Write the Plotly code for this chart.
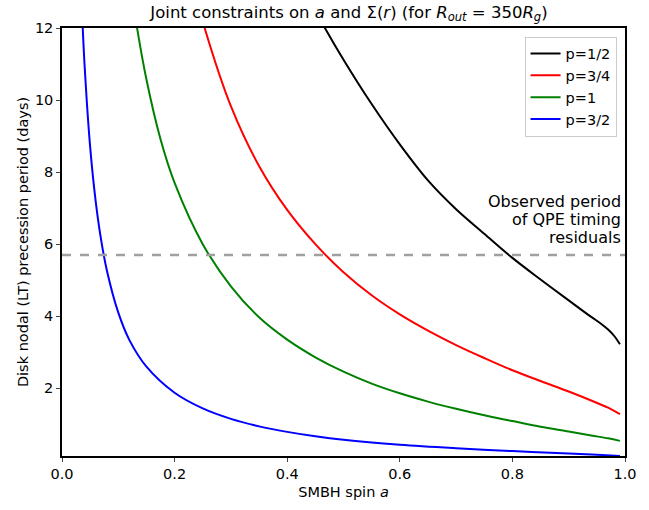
import plotly.graph_objects as go

# spin values and LT precession periods (days)
a_half = [0.45, 0.467, 0.50, 0.55, 0.60, 0.65, 0.70, 0.75, 0.80, 0.85, 0.90, 0.94, 0.955, 0.97, 0.982, 0.991]
p_half = [12.49, 12.0, 11.12, 9.89, 8.77, 7.77, 6.97, 6.29, 5.62, 5.02, 4.44, 3.98, 3.82, 3.63, 3.43, 3.22]

a_3q = [0.24, 0.253, 0.30, 0.35, 0.40, 0.45, 0.50, 0.55, 0.60, 0.65, 0.70, 0.75, 0.80, 0.85, 0.90, 0.94, 0.97, 0.991]
p_3q = [12.79, 12.02, 9.83, 8.17, 6.95, 6.00, 5.22, 4.58, 4.05, 3.60, 3.20, 2.84, 2.50, 2.20, 1.91, 1.66, 1.46, 1.28]

a_one = [0.125, 0.134, 0.15, 0.175, 0.20, 0.25, 0.30, 0.35, 0.40, 0.45, 0.50, 0.55, 0.60, 0.65, 0.70, 0.75, 0.80, 0.85, 0.90, 0.94, 0.97, 0.991]
p_one = [12.88, 11.94, 10.57, 8.91, 7.70, 6.00, 4.83, 3.97, 3.35, 2.86, 2.46, 2.13, 1.86, 1.63, 1.43, 1.25, 1.09, 0.93, 0.80, 0.69, 0.61, 0.54]

a_3h = [0.03, 0.035, 0.04, 0.05, 0.06, 0.07, 0.08, 0.10, 0.12, 0.15, 0.20, 0.25, 0.30, 0.35, 0.40, 0.45, 0.50, 0.60, 0.70, 0.80, 0.90, 0.95, 0.991]
p_3h = [14.8, 12.66, 11.0, 8.7, 7.17, 6.07, 5.25, 4.10, 3.33, 2.60, 1.875, 1.44, 1.15, 0.943, 0.79, 0.667, 0.57, 0.433, 0.336, 0.256, 0.189, 0.156, 0.121]

observed_period = 5.7
note_lines = ["Observed period", "of QPE timing", "residuals"]

series = [
    ("p=1/2", a_half, p_half, "black"),
    ("p=3/4", a_3q, p_3q, "red"),
    ("p=1", a_one, p_one, "green"),
    ("p=3/2", a_3h, p_3h, "blue"),
]

fig = go.Figure()
for name, xs, ys, col in series:
    fig.add_trace(go.Scatter(x=xs, y=ys, mode="lines", name=name,
                             line=dict(color=col, width=2, shape="spline", smoothing=1.0)))

fig.add_hline(y=observed_period, line=dict(color="#a0a0a0", width=2.5, dash="dash"))

for i, line in enumerate(note_lines):
    fig.add_annotation(x=0.996, y=observed_period, xref="x", yref="y",
                       text=line, showarrow=False, xanchor="right", yanchor="middle",
                       align="right", yshift=53 - 18 * i,
                       font=dict(size=16, color="black"))

font = "DejaVu Sans, sans-serif"
fig.update_layout(
    width=649, height=510,
    margin=dict(l=62, r=13, t=28, b=52),
    paper_bgcolor="white", plot_bgcolor="white",
    font=dict(family=font, size=14.5, color="black"),
    title=dict(text="Joint constraints on <i>a</i> and Σ(<i>r</i>) (for <i>R<sub>out</sub></i> = 350<i>R<sub>g</sub></i>)",
               x=(62 + 636) / 2 / 649, xanchor="center", y=0.976, yanchor="middle",
               font=dict(size=16.5, color="black")),
    legend=dict(x=0.985, y=0.98, xanchor="right", yanchor="top",
                bordercolor="#cccccc", borderwidth=1, bgcolor="white",
                font=dict(size=14.5), tracegroupgap=0),
    showlegend=True,
)
fig.update_xaxes(range=[0, 1], tickvals=[0, 0.2, 0.4, 0.6, 0.8, 1.0],
                 ticktext=["0.0", "0.2", "0.4", "0.6", "0.8", "1.0"],
                 showline=True, linecolor="black", linewidth=1.5, mirror=True,
                 ticks="outside", ticklen=4, tickwidth=1.2, showgrid=False, zeroline=False,
                 title=dict(text="SMBH spin <i>a</i>", font=dict(size=14.5), standoff=6),
                 tickfont=dict(size=14.5))
fig.update_yaxes(range=[0.12, 12], tickvals=[2, 4, 6, 8, 10, 12],
                 showline=True, linecolor="black", linewidth=1.5, mirror=True,
                 ticks="outside", ticklen=4, tickwidth=1.2, showgrid=False, zeroline=False,
                 title=dict(text="Disk nodal (LT) precession period (days)", font=dict(size=14.5), standoff=3),
                 tickfont=dict(size=14.5))

fig.write_html("out.html")
